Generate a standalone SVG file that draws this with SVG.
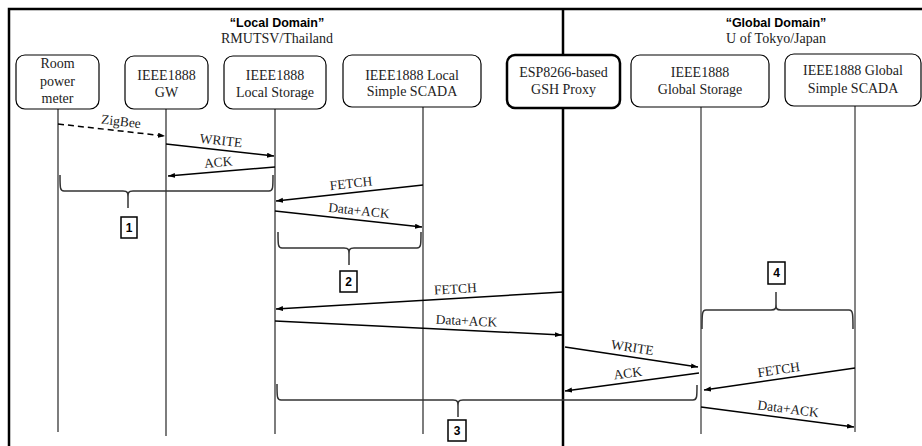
<svg xmlns="http://www.w3.org/2000/svg" width="922" height="446" viewBox="0 0 922 446">
<defs>
<style>
.frame{stroke:#000;stroke-width:2.5;fill:none}
.box{fill:#fff;stroke:#000;stroke-width:1.2}
.boxb{fill:#fff;stroke:#000;stroke-width:2.5}
.t{font-family:"Liberation Serif","Times New Roman",serif;font-size:14px;fill:#222;text-anchor:middle}
.h{font-family:"Liberation Sans",Arial,sans-serif;font-size:12.5px;font-weight:bold;fill:#000;text-anchor:middle}
.ll{stroke:#111;stroke-width:1.1;fill:none}
.lg{stroke:#777;stroke-width:1.8;fill:none}
.msg{stroke:#000;stroke-width:1.5;fill:none;marker-end:url(#ah)}
.dash{stroke-dasharray:6,4}
.ml{font-family:"Liberation Serif","Times New Roman",serif;font-size:13.5px;fill:#222;text-anchor:middle}
.br{stroke:#333;stroke-width:1.5;fill:none}
.nb{fill:#fff;stroke:#000;stroke-width:1.5}
.nt{font-family:"Liberation Sans",Arial,sans-serif;font-size:12px;font-weight:bold;fill:#000;text-anchor:middle}
</style>
<marker id="ah" markerUnits="userSpaceOnUse" markerWidth="8" markerHeight="6" refX="7" refY="2.5" orient="auto">
<path d="M0,0 L7,2.5 L0,5 z" fill="#000"/>
</marker>
</defs>

<g id="frame">
<path class="frame" d="M9,446 L9,9 L922,9"/>
<line class="frame" x1="563" y1="9" x2="563" y2="446"/>
<text class="h" x="277" y="27">“Local Domain”</text>
<text class="t" x="277" y="43">RMUTSV/Thailand</text>
<text class="h" x="776" y="27">“Global Domain”</text>
<text class="t" x="776" y="43">U of Tokyo/Japan</text>
</g>

<g id="lifelines">
<line class="ll" x1="58" y1="109" x2="58" y2="432"/>
<line class="ll" x1="166" y1="109" x2="166" y2="436"/>
<line class="ll" x1="275" y1="109" x2="275" y2="434"/>
<line class="ll" x1="423" y1="107" x2="423" y2="434"/>
<line class="lg" x1="701" y1="107" x2="701" y2="434"/>
<line class="lg" x1="855" y1="106" x2="855" y2="432"/>
</g>

<g id="node-meter">
<rect class="box" x="16" y="55" width="83" height="54" rx="9"/>
<text class="t" x="57.5" y="68">Room</text>
<text class="t" x="57.5" y="86">power</text>
<text class="t" x="57.5" y="103">meter</text>
</g>
<g id="node-gw">
<rect class="box" x="125" y="56" width="83" height="53" rx="9"/>
<text class="t" x="166.5" y="80">IEEE1888</text>
<text class="t" x="166.5" y="97">GW</text>
</g>
<g id="node-localstorage">
<rect class="box" x="224" y="56" width="102" height="53" rx="9"/>
<text class="t" x="275" y="80">IEEE1888</text>
<text class="t" x="275" y="97">Local Storage</text>
</g>
<g id="node-localscada">
<rect class="box" x="343" y="55" width="138" height="52" rx="9"/>
<text class="t" x="412" y="80">IEEE1888 Local</text>
<text class="t" x="412" y="96">Simple SCADA</text>
</g>
<g id="node-proxy">
<rect class="boxb" x="507" y="55" width="113" height="53" rx="8"/>
<text class="t" x="563.5" y="77">ESP8266-based</text>
<text class="t" x="563.5" y="94">GSH Proxy</text>
</g>
<g id="node-globalstorage">
<rect class="box" x="631" y="55" width="138" height="52" rx="9"/>
<text class="t" x="700" y="77">IEEE1888</text>
<text class="t" x="700" y="94">Global Storage</text>
</g>
<g id="node-globalscada">
<rect class="box" x="785" y="54" width="136" height="52" rx="9"/>
<text class="t" x="853" y="75">IEEE1888 Global</text>
<text class="t" x="853" y="93">Simple SCADA</text>
</g>

<g id="connectors">
<line class="msg dash" x1="58" y1="124" x2="165" y2="136"/>
<line class="msg" x1="166" y1="144" x2="274" y2="156"/>
<line class="msg" x1="275" y1="167" x2="168" y2="176"/>
<line class="msg" x1="423" y1="185" x2="276" y2="201"/>
<line class="msg" x1="275" y1="211" x2="422" y2="227"/>
<line class="msg" x1="563" y1="292" x2="276" y2="309"/>
<line class="msg" x1="275" y1="321" x2="562" y2="335"/>
<line class="msg" x1="565" y1="347" x2="698" y2="367"/>
<line class="msg" x1="699" y1="373" x2="565" y2="391"/>
<line class="msg" x1="855" y1="368" x2="704" y2="390"/>
<line class="msg" x1="701" y1="407" x2="854" y2="427"/>
</g>

<g id="labels">
<g transform="translate(120,130.8) rotate(6.5)"><text class="ml" x="0" y="-5">ZigBee</text></g>
<g transform="translate(220,150) rotate(6.4)"><text class="ml" x="0" y="-5">WRITE</text></g>
<g transform="translate(219,171.7) rotate(-4.9)"><text class="ml" x="0" y="-5">ACK</text></g>
<g transform="translate(352,192.8) rotate(-6.2)"><text class="ml" x="0" y="-5">FETCH</text></g>
<g transform="translate(358,220) rotate(6.2)"><text class="ml" x="0" y="-5">Data+ACK</text></g>
<g transform="translate(456,298.3) rotate(-3.4)"><text class="ml" x="0" y="-5">FETCH</text></g>
<g transform="translate(466,330.3) rotate(2.8)"><text class="ml" x="0" y="-5">Data+ACK</text></g>
<g transform="translate(631,357) rotate(8.6)"><text class="ml" x="0" y="-5">WRITE</text></g>
<g transform="translate(629,382.5) rotate(-7.7)"><text class="ml" x="0" y="-5">ACK</text></g>
<g transform="translate(780,379) rotate(-8.3)"><text class="ml" x="0" y="-5">FETCH</text></g>
<g transform="translate(787,418.2) rotate(7.4)"><text class="ml" x="0" y="-5">Data+ACK</text></g>
</g>

<g id="brace-1">
<path class="br" d="M60,175 C60,188 60,191 64,191 L123,191 C128,191 128,193 128,197 L128,208 M128,197 C128,193 128,191 133,191 L269,191 C273,191 273,188 273,175"/>
<rect class="nb" x="121" y="217" width="16" height="21"/>
<text class="nt" x="129" y="232">1</text>
</g>
<g id="brace-2">
<path class="br" d="M278,232 C278,245 278,248 282,248 L344,248 C349,248 349,250 349,254 L349,265 M349,254 C349,250 349,248 354,248 L417,248 C421,248 421,245 421,232"/>
<rect class="nb" x="340" y="271" width="17" height="21"/>
<text class="nt" x="348.5" y="286">2</text>
</g>
<g id="brace-3">
<path class="br" d="M277,384 C277,397 277,400 281,400 L453,400 C458,400 458,402 458,406 L458,417 M458,406 C458,402 458,400 463,400 L693,400 C697,400 697,397 697,385"/>
<rect class="nb" x="448" y="420" width="18" height="21"/>
<text class="nt" x="457" y="435">3</text>
</g>
<g id="brace-4">
<path class="br" d="M702,329 C702,314 702,310 706,310 L771,310 C776,310 776,308 776,304 L776,292 M776,304 C776,308 776,310 781,310 L849,310 C853,310 853,314 853,329"/>
<rect class="nb" x="768" y="262" width="17" height="22"/>
<text class="nt" x="776.5" y="277">4</text>
</g>
</svg>
